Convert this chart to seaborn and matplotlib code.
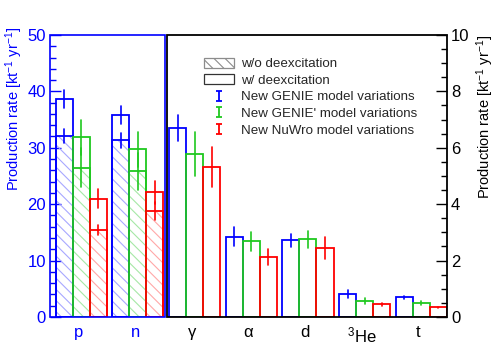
import numpy as np
import pandas as pd
import matplotlib.pyplot as plt
import seaborn as sns
from matplotlib.patches import Patch, Rectangle
from matplotlib.ticker import MultipleLocator
from matplotlib.legend_handler import HandlerErrorbar

# ===================== style =====================
sns.set_theme(style='ticks')
plt.rcParams['font.family'] = ['Liberation Sans', 'DejaVu Sans']
plt.rcParams['mathtext.fontset'] = 'custom'
plt.rcParams['mathtext.rm'] = 'Liberation Sans'
plt.rcParams['mathtext.it'] = 'Liberation Sans:italic'
plt.rcParams['hatch.linewidth'] = 0.8

# ===================== data =====================
PARTICLES = ['p', 'n', 'γ', 'α', 'd', '$^{3}$He', 't']
NUCLEONS = ['p', 'n']                         # left scale (0-50)
OTHERS = ['γ', 'α', 'd', '$^{3}$He', 't']     # right scale (0-10)
MODELS = ['New GENIE', "New GENIE'", 'New NuWro']

COLORS = ['#0000ff', '#1fc81f', '#ff0000']
HATCH_COLORS = ['#a8a8ff', '#a6e8a6', '#ffa8a8']

# nucleons, w/ deexcitation  [kt^-1 yr^-1]
nuc_with = {'New GENIE': [38.6, 35.8], "New GENIE'": [31.9, 29.7], 'New NuWro': [21.0, 22.1]}
nuc_with_err = {'New GENIE': [1.6, 1.6], "New GENIE'": [3.1, 3.1], 'New NuWro': [1.7, 2.0]}
# nucleons, w/o deexcitation
nuc_without = {'New GENIE': [32.1, 31.3], "New GENIE'": [26.5, 25.8], 'New NuWro': [15.4, 18.8]}
nuc_without_err = {'New GENIE': [1.3, 1.3], "New GENIE'": [3.4, 3.3], 'New NuWro': [0.9, 1.6]}

# gamma / light ions, w/ deexcitation
oth_with = {'New GENIE': [6.69, 2.85, 2.72, 0.80, 0.70],
            "New GENIE'": [5.77, 2.68, 2.75, 0.56, 0.50],
            'New NuWro': [5.32, 2.13, 2.45, 0.45, 0.34]}
oth_with_err = {'New GENIE': [0.46, 0.33, 0.24, 0.14, 0.06],
                "New GENIE'": [0.78, 0.33, 0.29, 0.11, 0.06],
                'New NuWro': [0.72, 0.27, 0.40, 0.05, 0.03]}


def long_table(cats, vals, errs):
    # two rows per bar (value -/+ error) -> mean = value, min/max = error band
    rows = []
    for m in MODELS:
        for c, v, e in zip(cats, vals[m], errs[m]):
            rows.append({'particle': c, 'model': m, 'rate': v - e})
            rows.append({'particle': c, 'model': m, 'rate': v + e})
    return pd.DataFrame(rows)


df_nuc_with = long_table(NUCLEONS, nuc_with, nuc_with_err)
df_nuc_without = long_table(NUCLEONS, nuc_without, nuc_without_err)
df_oth_with = long_table(OTHERS, oth_with, oth_with_err)

minmax = lambda v: (v.min(), v.max())

# ===================== figure =====================
fig = plt.figure(figsize=(4.98, 3.53), dpi=100)
ax = fig.add_axes([0.1004, 0.102, 0.797, 0.799])
ax2 = ax.twinx()

common = dict(x='particle', y='rate', hue='model', order=PARTICLES, hue_order=MODELS,
              width=0.9, fill=False, legend=False)

# hatched w/o deexcitation (hatch only)
sns.barplot(data=df_nuc_without, palette=HATCH_COLORS, hatch='\\\\\\', linewidth=0,
            errorbar=None, ax=ax, **common)
# w/o deexcitation outline + errors
sns.barplot(data=df_nuc_without, palette=COLORS, linewidth=1.3, errorbar=minmax,
            err_kws={'linewidth': 1.2}, ax=ax, **common)
# w/ deexcitation
sns.barplot(data=df_nuc_with, palette=COLORS, linewidth=1.3, errorbar=minmax,
            err_kws={'linewidth': 1.2}, ax=ax, **common)
sns.barplot(data=df_oth_with, palette=COLORS, linewidth=1.3, errorbar=minmax,
            err_kws={'linewidth': 1.2}, ax=ax2, **common)

# ===================== axes =====================
ax.set_xlim(-0.55, len(PARTICLES) - 0.55)
ax.set_ylim(0, 50)
ax2.set_ylim(0, 10)

for a in (ax, ax2):
    for s in a.spines.values():
        s.set_visible(False)

# left (blue) pad frame and right (black) pad frame
ax.add_patch(Rectangle((-0.55, 0), 2.02, 50, fill=False, edgecolor='#0000ff',
                       linewidth=1.2, clip_on=False, zorder=5))
ax2.add_patch(Rectangle((1.505, 0), len(PARTICLES) - 0.55 - 1.505, 10, fill=False,
                        edgecolor='black', linewidth=1.3, clip_on=False, zorder=5))

ax.yaxis.set_major_locator(MultipleLocator(10))
ax.yaxis.set_minor_locator(MultipleLocator(2))
ax.tick_params(axis='y', which='both', direction='in', left=True, right=False,
               color='#0000ff', labelcolor='#0000ff', labelsize=12, pad=3)
ax.tick_params(axis='y', which='major', length=8, width=1)
ax.tick_params(axis='y', which='minor', length=4.5, width=1)

ax2.yaxis.set_major_locator(MultipleLocator(2))
ax2.yaxis.set_minor_locator(MultipleLocator(0.5))
ax2.tick_params(axis='y', which='both', direction='in', left=False, right=True,
                color='black', labelcolor='black', labelsize=12, pad=3)
ax2.tick_params(axis='y', which='major', length=8, width=1)
ax2.tick_params(axis='y', which='minor', length=4.5, width=1)

# category labels at bin centres
ax.set_xticks(np.arange(len(PARTICLES)) - 0.05)
ax.set_xticklabels(PARTICLES, fontsize=12)
ax.tick_params(axis='x', length=0, pad=6)
for lab in ax.get_xticklabels():
    lab.set_color('#0000ff' if lab.get_text() in NUCLEONS else 'black')
ax.set_xlabel('')
ax2.set_xlabel('')

ylab = 'Production rate [kt$^{-1}$ yr$^{-1}$]'
ax.set_ylabel(ylab, color='#0000ff', fontsize=10.5, loc='top')
ax.yaxis.set_label_coords(-0.064, 1.028)
ax2.set_ylabel(ylab, color='black', fontsize=10.5, loc='top')
ax2.yaxis.set_label_coords(1.07, 1.0)

# ===================== legend =====================
handles = [
    Patch(facecolor='white', edgecolor='#8c8c8c', hatch='\\\\\\', linewidth=0.9),
    Patch(facecolor='white', edgecolor='#333333', linewidth=0.9),
]
err_handles = []
for c in COLORS:
    err_handles.append(ax2.errorbar([np.nan], [np.nan], yerr=[1], color=c, capsize=2.2,
                                    linestyle='none', elinewidth=1.3, capthick=1.3))
handles += err_handles
labels = ['w/o deexcitation', 'w/ deexcitation'] + [m + ' model variations' for m in MODELS]
fig.legend(handles, labels, loc='upper left', bbox_to_anchor=(0.41, 0.836),
           frameon=False, fontsize=9.6, handlelength=2.25, handleheight=0.75,
           handletextpad=0.5, labelspacing=0.3, borderpad=0, borderaxespad=0,
           handler_map={h: HandlerErrorbar(xerr_size=0.5, yerr_size=0.38) for h in err_handles})

plt.savefig('out.png', dpi=100)
